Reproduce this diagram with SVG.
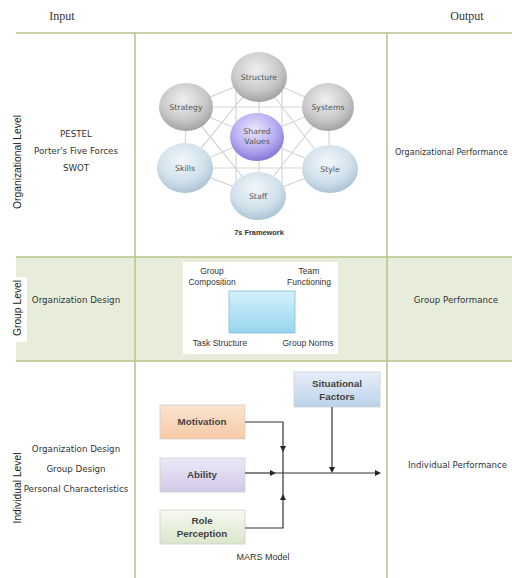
<svg xmlns="http://www.w3.org/2000/svg" width="512" height="578" viewBox="0 0 512 578">
<defs>
<radialGradient id="gGray" cx="45%" cy="35%" r="70%"><stop offset="0" stop-color="#f0f0f0"/><stop offset="0.6" stop-color="#c8c8c8"/><stop offset="1" stop-color="#9a9a9a"/></radialGradient>
<radialGradient id="gBlue" cx="45%" cy="35%" r="70%"><stop offset="0" stop-color="#f2f7fa"/><stop offset="0.6" stop-color="#d0e0eb"/><stop offset="1" stop-color="#a3bdd0"/></radialGradient>
<radialGradient id="gPurple" cx="45%" cy="35%" r="70%"><stop offset="0" stop-color="#ebe8fb"/><stop offset="0.6" stop-color="#b3aaf0"/><stop offset="1" stop-color="#7a6dcf"/></radialGradient>
<linearGradient id="gCyan" x1="0" y1="0" x2="0" y2="1"><stop offset="0" stop-color="#d4f1fb"/><stop offset="1" stop-color="#96d6ef"/></linearGradient>
<linearGradient id="gOrange" x1="0" y1="0" x2="0" y2="1"><stop offset="0" stop-color="#fce4d0"/><stop offset="1" stop-color="#f6c9a4"/></linearGradient>
<linearGradient id="gLav" x1="0" y1="0" x2="0" y2="1"><stop offset="0" stop-color="#ece8f6"/><stop offset="1" stop-color="#d2c9e8"/></linearGradient>
<linearGradient id="gGreen" x1="0" y1="0" x2="0" y2="1"><stop offset="0" stop-color="#f6f9f0"/><stop offset="1" stop-color="#dbe6cc"/></linearGradient>
<linearGradient id="gSky" x1="0" y1="0" x2="0" y2="1"><stop offset="0" stop-color="#e6eef8"/><stop offset="1" stop-color="#bcd2ea"/></linearGradient>
<marker id="arr" viewBox="0 0 10 10" refX="5" refY="5" markerWidth="6" markerHeight="6" markerUnits="userSpaceOnUse" orient="auto"><path d="M0,0 L10,5 L0,10 z" fill="#222"/></marker>
</defs>
<style>
.grid{stroke:#b4c38a;stroke-width:1.5;fill:none}
.hdr{font-family:"Liberation Serif",serif;font-size:12px;fill:#333;text-anchor:middle}
.t{font-family:"DejaVu Sans","Liberation Sans",sans-serif;font-size:8.7px;fill:#333;text-anchor:middle}
.ts{font-family:"DejaVu Sans","Liberation Sans",sans-serif;font-size:8.6px;fill:#333;text-anchor:start}
.rot{font-family:"Liberation Sans",Arial,sans-serif;font-size:10.3px;fill:#222;text-anchor:middle}
.s7{font-family:"DejaVu Sans","Liberation Sans",sans-serif;font-size:7.8px;fill:#555;text-anchor:middle}
.cap{font-family:"Liberation Sans",Arial,sans-serif;font-size:7.4px;font-weight:bold;fill:#333;text-anchor:middle}
.sp{stroke:#d6d6d6;stroke-width:1.2;fill:none}
.gt{font-family:"Liberation Sans",Arial,sans-serif;font-size:8.5px;fill:#333;text-anchor:middle}
.mb{font-family:"Liberation Sans",Arial,sans-serif;font-size:9.8px;font-weight:bold;fill:#444;text-anchor:middle}
.mc{font-family:"Liberation Sans",Arial,sans-serif;font-size:9px;fill:#333;text-anchor:middle}
.ln{stroke:#333;stroke-width:1.2;fill:none}
.box{stroke:#d0d0d0;stroke-width:0.8}
</style>
<rect width="512" height="578" fill="#ffffff"/>
<g id="table">
<rect x="16" y="257" width="496" height="104" fill="#e8eddb"/>
<rect x="183" y="262" width="155" height="92" fill="#ffffff"/>
<line class="grid" x1="16" y1="33" x2="512" y2="33"/>
<line class="grid" x1="16" y1="257" x2="512" y2="257"/>
<line class="grid" x1="16" y1="361" x2="512" y2="361"/>
<line class="grid" x1="135" y1="33" x2="135" y2="578"/>
<line class="grid" x1="387" y1="33" x2="387" y2="578"/>
<text class="hdr" x="62" y="20">Input</text>
<text class="hdr" x="467" y="20">Output</text>
</g>
<g id="row-labels">
<text class="rot" transform="translate(21,162) rotate(-90)">Organizational Level</text>
<rect x="8" y="277" width="19" height="65" fill="#ffffff"/>
<text class="rot" transform="translate(21,308) rotate(-90)">Group Level</text>
<text class="rot" transform="translate(21,488) rotate(-90)">Individual Level</text>
</g>
<g id="org-input">
<text class="t" x="76" y="137">PESTEL</text>
<text class="t" x="76" y="154">Porter's Five Forces</text>
<text class="t" x="76" y="171">SWOT</text>
</g>
<g id="org-output"><text class="ts" x="395" y="155" style="font-size:8.1px">Organizational Performance</text></g>
<g id="group-input"><text class="t" x="76" y="303">Organization Design</text></g>
<g id="group-output"><text class="t" x="456" y="303">Group Performance</text></g>
<g id="ind-input">
<text class="t" x="76" y="452">Organization Design</text>
<text class="t" x="76" y="472">Group Design</text>
<text class="t" x="76" y="492">Personal Characteristics</text>
</g>
<g id="ind-output"><text class="ts" x="408" y="468">Individual Performance</text></g>
<g id="connectors-7s">
<path class="sp" d="M259,77 L328,107 L330,169 L258,196 L185,168 L186,107 Z"/>
<path class="sp" d="M186,107 H328 M185,168 H330 M186,107 L330,169 M328,107 L185,168 M259,77 L185,168 M259,77 L330,169 M186,107 L258,196 M328,107 L258,196 M236,77 L236,196 M282,77 L282,196 M259,77 V196"/>
</g>
<g id="n-structure"><ellipse cx="259" cy="77" rx="28" ry="25" fill="url(#gGray)"/><text class="s7" x="259" y="80">Structure</text></g>
<g id="n-strategy"><ellipse cx="186" cy="107" rx="27" ry="24" fill="url(#gGray)"/><text class="s7" x="186" y="110">Strategy</text></g>
<g id="n-systems"><ellipse cx="328" cy="107" rx="26" ry="24" fill="url(#gGray)"/><text class="s7" x="328" y="110">Systems</text></g>
<g id="n-shared"><ellipse cx="257" cy="137" rx="27" ry="24" fill="url(#gPurple)"/><text class="s7" x="257" y="134" fill="#444">Shared</text><text class="s7" x="257" y="144" fill="#444">Values</text></g>
<g id="n-skills"><ellipse cx="185" cy="168" rx="28" ry="25" fill="url(#gBlue)"/><text class="s7" x="185" y="171">Skills</text></g>
<g id="n-style"><ellipse cx="330" cy="169" rx="28" ry="24" fill="url(#gBlue)"/><text class="s7" x="330" y="172">Style</text></g>
<g id="n-staff"><ellipse cx="258" cy="196" rx="28" ry="24" fill="url(#gBlue)"/><text class="s7" x="258" y="199">Staff</text></g>
<g id="cap-7s"><text class="cap" x="259" y="235">7s Framework</text></g>
<g id="group-model">
<rect x="229" y="291" width="66" height="42" fill="url(#gCyan)" stroke="#86bcd8" stroke-width="0.8"/>
<text class="gt" x="212" y="274">Group</text><text class="gt" x="212" y="285">Composition</text>
<text class="gt" x="309" y="274">Team</text><text class="gt" x="309" y="285">Functioning</text>
<text class="gt" x="220" y="346">Task Structure</text>
<text class="gt" x="308" y="346">Group Norms</text>
</g>
<g id="n-situational"><rect class="box" x="294" y="372" width="86" height="35" fill="url(#gSky)"/><text class="mb" x="337" y="387">Situational</text><text class="mb" x="337" y="400">Factors</text></g>
<g id="n-motivation"><rect class="box" x="160" y="405" width="85" height="34" fill="url(#gOrange)"/><text class="mb" x="202" y="425">Motivation</text></g>
<g id="n-ability"><rect class="box" x="160" y="458" width="85" height="34" fill="url(#gLav)"/><text class="mb" x="202" y="478">Ability</text></g>
<g id="n-role"><rect class="box" x="160" y="510" width="85" height="34" fill="url(#gGreen)"/><text class="mb" x="202" y="524">Role</text><text class="mb" x="202" y="537">Perception</text></g>
<g id="connectors-mars">
<path class="ln" d="M245,422 H283 V449" marker-end="url(#arr)"/>
<path class="ln" d="M283,448 V473"/>
<path class="ln" d="M245,528 H283 V497" marker-end="url(#arr)"/>
<path class="ln" d="M283,498 V473"/>
<path class="ln" d="M245,473 H273" marker-end="url(#arr)"/>
<path class="ln" d="M272,473 H378" marker-end="url(#arr)"/>
<path class="ln" d="M332,407 V470" marker-end="url(#arr)"/>
</g>
<g id="cap-mars"><text class="mc" x="263" y="560">MARS Model</text></g>
</svg>
